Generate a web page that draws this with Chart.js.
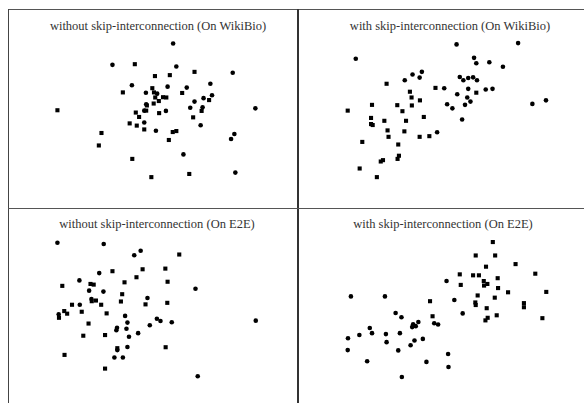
<!DOCTYPE html>
<html>
<head>
<meta charset="utf-8">
<script src="https://cdn.jsdelivr.net/npm/chart.js@4/dist/chart.umd.min.js"></script>
<style>
  html, body { margin: 0; padding: 0; background: #fff; }
  body { width: 584px; height: 403px; position: relative; overflow: hidden; }
  .line { position: absolute; background: #444; }
  canvas { position: absolute; }
  .ttl { position: absolute; font-family: "Liberation Serif", "Times New Roman", serif; font-size: 12.5px; color: #333; white-space: nowrap; transform: translateX(-50%); line-height: 14px; }
</style>
</head>
<body>
<div class="line" style="left:8px;top:9px;width:576px;height:1px;background:#555"></div>
<div class="line" style="left:8px;top:9px;width:1px;height:394px;background:#444"></div>
<div class="line" style="left:297px;top:9px;width:2px;height:394px;background:#333"></div>
<div class="line" style="left:8px;top:208px;width:576px;height:1px;background:#555"></div>

<div class="ttl" id="t0" style="left:158px;top:19px"></div>
<div class="ttl" id="t1" style="left:450px;top:19px"></div>
<div class="ttl" id="t2" style="left:157px;top:217px"></div>
<div class="ttl" id="t3" style="left:443px;top:217px"></div>

<canvas id="c0" width="288" height="198" style="left:9px;top:10px"></canvas>
<canvas id="c1" width="285" height="198" style="left:299px;top:10px"></canvas>
<canvas id="c2" width="288" height="194" style="left:9px;top:209px"></canvas>
<canvas id="c3" width="285" height="194" style="left:299px;top:209px"></canvas>

<script>
const titles = [
  "without skip-interconnection (On WikiBio)",
  "with skip-interconnection (On WikiBio)",
  "without skip-interconnection (On E2E)",
  "with skip-interconnection (On E2E)"
];

// Panel 1: without skip-interconnection (WikiBio)
const wikiNoSkipCircles = [
  [173.7,159.3],[111.3,137],[177,135.3],[235,128.7],[131.3,115.7],[212,117.3],[168,114.3],
  [187.7,113.3],[145.7,108],[157.3,107],[213.7,105.3],[205,102.3],[195.7,98.7],[146,96],
  [258.3,91.7],[191.3,92.3],[204,92.7],[144,89.3],[166.3,89],[144,77],[202,74],[156,68.3],
  [236.7,65],[233.3,59.7],[184.3,43.7],[237.7,24.7]
];
const wikiNoSkipSquares = [
  [134.3,137.7],[155,125.3],[170.3,126.3],[195.7,129.7],[152.3,112.7],[122,108.3],[154,108.3],
  [183,107.7],[155.3,103],[163.3,103.3],[166.7,103],[159,99.3],[210.7,100.3],[146.7,94.7],
  [153.7,96.7],[54.7,89.7],[203,89],[146,89.3],[135.3,87.3],[159.3,86.7],[138.7,82.7],
  [194.3,82.3],[129,76],[136.3,73.7],[144,69.7],[173.3,67],[177,68],[100,66],[169.3,58.7],
  [97.3,53],[131.7,39],[190.3,23.3],[151.3,20]
];

// Panel 2: with skip-interconnection (WikiBio)
const wikiSkipCircles = [
  [173,158.3],[236.3,159.7],[69.3,143.3],[191,144.3],[193.3,138.7],[206.7,139.7],[220.7,135],
  [127.7,127],[137.3,129.7],[135,123.7],[119.7,121],[176.3,124.3],[180,121],[185,123.3],
  [190,124],[194,121],[160.3,112.7],[185,112],[203,111.3],[210,112],[173.7,106.3],[184,103],
  [187.3,98.7],[181.7,95.3],[163.3,96],[168.7,91.7],[178.7,80],[153,66.7],[251,96.3],[265,100]
];
const wikiSkipSquares = [
  [101,117.3],[151.3,113],[125,109],[126.7,103],[135.3,100],[193.3,108],[86,95.3],[112,95],
  [127,94.7],[117.3,88.7],[61,89.3],[85,81.7],[98.7,78.7],[121,78.7],[139.3,82.7],[85,75.3],
  [86.7,74.3],[102,68.7],[119.3,67.7],[103,62],[135,62],[145,62.7],[76,56.7],[113,54],
  [113.7,42.3],[112.3,39],[97.3,37.7],[95,36.3],[73.3,29],[91,20]
];

// Panel 3: without skip-interconnection (E2E)
const e2eNoSkipCircles = [
  [54.7,160],[102.3,158.7],[140.3,151.7],[133.7,147],[97.7,128.3],[77.3,120.7],[87.3,110],
  [102,109],[196.7,112],[147.3,102.3],[77.7,95.3],[89.7,101.3],[56,85.3],[124.3,83.7],
  [126.7,76.7],[116,71.3],[115.3,68.7],[125.7,70.3],[149.7,74],[157,80.7],[160.7,78.3],
  [172.3,77],[258.7,78.7],[128.3,62],[137.7,65.7],[126.7,51.3],[116.3,48],[113.3,40.3],
  [122,40.3],[199,20.7]
];
const e2eNoSkipSquares = [
  [180,147.7],[111.3,130.3],[142.3,132.3],[165.7,133],[136,124],[123.7,118.7],[168,119.3],
  [59.7,115],[88.7,117],[92,116.3],[121.3,106.3],[90,99],[94.3,99.7],[69.7,95.3],[99.7,95.3],
  [120,98.7],[145.3,95.7],[167.7,97.3],[61.7,88.7],[64.7,86],[56.3,81.7],[79.7,88],[105.3,86.3],
  [86.7,75.7],[81.3,63],[103.7,63.7],[116.3,50],[166,51],[62,43],[103.7,28.7]
];

// Panel 4: with skip-interconnection (E2E)
const e2eSkipCircles = [
  [162.7,120],[64.3,104],[99.3,104],[170.7,100.3],[110.3,86.7],[116.3,82.3],[179.3,86.3],
  [133.7,77.3],[128.3,75],[131,73],[127.3,72],[150,76],[154,74.7],[83.7,71],[73,63.7],[86,65.7],
  [100.3,64.7],[114.7,65.7],[61.3,60.3],[138.3,59.7],[129.7,58],[125.7,53],[101,56.3],[61,48],
  [113,47.7],[164.3,44],[81,36.3],[142,35.7],[164.7,30.3],[116.7,20]
];
const e2eSkipSquares = [
  [210.3,160.7],[192.7,146.7],[212.7,146.7],[203.3,135],[233.7,137.7],[176.3,127],[190,126],
  [196,126],[201,120],[204.7,117],[201.3,115.3],[215.3,123],[254,127.7],[177.3,116],[215.7,112.7],
  [226,108.3],[265.3,108.7],[194.7,105],[212.3,102.7],[145.7,99],[192.3,97.7],[192.7,95],
  [242.3,97],[242.3,92.7],[204,91.7],[214.3,84.3],[205,81.7],[202.7,79],[261.3,81.3],[148.3,83.3]
];

const panels = [
  { id: "c0", circles: wikiNoSkipCircles, squares: wikiNoSkipSquares, xr: [9, 297], yr: [-8, 190] },
  { id: "c1", circles: wikiSkipCircles, squares: wikiSkipSquares, xr: [15, 300], yr: [-8, 190] },
  { id: "c2", circles: e2eNoSkipCircles, squares: e2eNoSkipSquares, xr: [9, 297], yr: [-3, 191] },
  { id: "c3", circles: e2eSkipCircles, squares: e2eSkipSquares, xr: [15, 300], yr: [-3, 191] }
];

const toPts = arr => arr.map(p => ({ x: p[0], y: p[1] }));

panels.forEach((p, i) => {
  document.getElementById("t" + i).textContent = titles[i];
  new Chart(document.getElementById(p.id), {
    type: "scatter",
    data: {
      datasets: [
        { data: toPts(p.circles), pointStyle: "circle", pointRadius: 2.3, pointBorderWidth: 0,
          backgroundColor: "#000", borderColor: "#000", clip: false },
        { data: toPts(p.squares), pointStyle: "rect", pointRadius: 2.9, pointBorderWidth: 0,
          backgroundColor: "#000", borderColor: "#000", clip: false }
      ]
    },
    options: {
      responsive: false,
      animation: false,
      layout: { padding: 0 },
      plugins: { legend: { display: false }, tooltip: { enabled: false }, title: { display: false } },
      scales: {
        x: { type: "linear", display: false, min: p.xr[0], max: p.xr[1] },
        y: { type: "linear", display: false, min: p.yr[0], max: p.yr[1] }
      }
    }
  });
});
</script>
</body>
</html>
